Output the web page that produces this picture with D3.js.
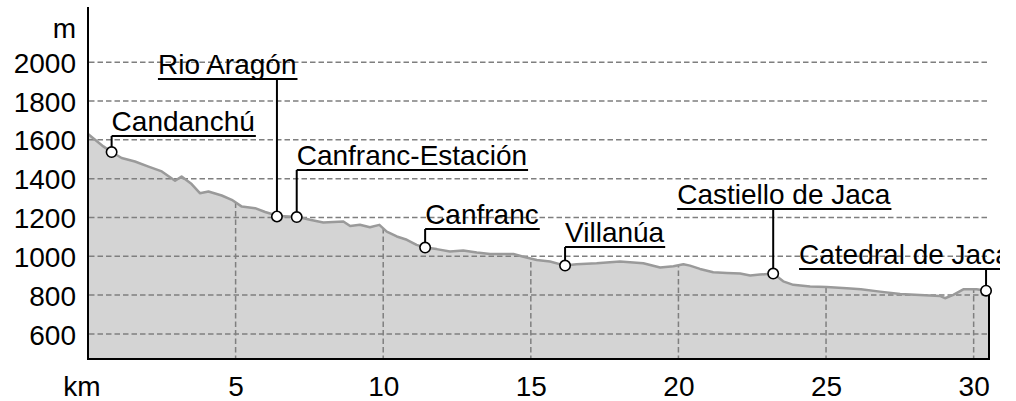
<!DOCTYPE html>
<html>
<head>
<meta charset="utf-8">
<script src="https://cdn.jsdelivr.net/npm/d3@7"></script>
<style>
body { margin: 0; background: #fff; }
svg { display: block; font-family: "Liberation Sans", Arial, sans-serif; }
</style>
</head>
<body>
<svg width="1000" height="401"></svg>
<script>
// elevation profile, km / metres
var km = [0, 0.24, 0.52, 0.80, 1.14, 1.59, 2.05, 2.50, 2.95, 3.17, 3.51, 3.79, 4.08, 4.53, 4.87,
          5.21, 5.66, 6.00, 6.39, 6.50, 7.12, 7.52, 7.97, 8.65, 8.88, 9.21, 9.55, 9.87, 10.12,
          10.46, 10.80, 11.13, 11.42, 11.81, 12.26, 12.71, 13.17, 13.62, 14.41, 14.75, 15.20,
          15.65, 16.16, 16.55, 17.23, 18.02, 18.81, 19.38, 19.83, 20.17, 20.39, 20.73, 21.18,
          21.64, 22.09, 22.43, 22.76, 23.21, 23.55, 23.89, 24.46, 25.02, 25.70, 26.18, 26.83,
          27.51, 28.18, 28.86, 29.03, 29.31, 29.65, 30.10, 30.42, 30.52];
var elev = [1630, 1600, 1566, 1537, 1506, 1488, 1462, 1437, 1389, 1411, 1372, 1325, 1334, 1313, 1291,
            1256, 1248, 1228, 1210, 1208, 1202, 1188, 1174, 1179, 1156, 1162, 1150, 1162, 1127,
            1102, 1085, 1059, 1045, 1037, 1025, 1030, 1020, 1012, 1012, 998, 981,
            973, 952, 959, 964, 973, 964, 942, 949, 959, 952, 935, 918,
            914, 911, 901, 906, 911, 871, 853, 845, 842, 836, 830, 818,
            806, 801, 796, 784, 801, 830, 830, 823, 823];

var placeNames = ["Candanchú", "Rio Aragón", "Canfranc-Estación", "Canfranc", "Villanúa",
                  "Castiello de Jaca", "Catedral de Jaca"];
var placeKm = [0.80, 6.40, 7.07, 11.42, 16.16, 23.21, 30.42];
var placeElev = [1537, 1205, 1202, 1045, 952, 911, 823];

var yTicks = [600, 800, 1000, 1200, 1400, 1600, 1800, 2000];
var xTicks = [5, 10, 15, 20, 25, 30];

// label placement (pixels): text start relative to the marker, underline height
var labelDx = [0, -119, 0, 0, 0, -96, -187];
var labelLineY = [136, 79, 170, 229, 247, 209, 269];

var svg = d3.select("svg"),
    fontSize = 28,
    x = d3.scaleLinear().domain([0, 30.52]).range([88, 989]),
    y = d3.scaleLinear().domain([471, 2284]).range([359, 7]),
    bottom = y(471);

var pts = km.map(function(d, i) { return [d, elev[i]]; });

var area = d3.area()
    .x(function(d) { return x(d[0]); })
    .y0(bottom)
    .y1(function(d) { return y(d[1]); });

var line = d3.line()
    .x(function(d) { return x(d[0]); })
    .y(function(d) { return y(d[1]); });

svg.append("clipPath").attr("id", "under")
    .append("path").attr("d", area(pts));

svg.append("path")
    .attr("d", area(pts))
    .attr("fill", "#d4d4d4");

// horizontal grid
svg.append("g").selectAll("line")
    .data(yTicks)
    .enter().append("line")
    .attr("x1", x(0) + 1).attr("x2", x(30.52))
    .attr("y1", function(d) { return y(d); })
    .attr("y2", function(d) { return y(d); })
    .attr("stroke", "#7f7f7f")
    .attr("stroke-width", 1.5)
    .attr("stroke-dasharray", "5.5,3");

// vertical grid, only under the profile
svg.append("g").attr("clip-path", "url(#under)").selectAll("line")
    .data(xTicks)
    .enter().append("line")
    .attr("x1", function(d) { return x(d); })
    .attr("x2", function(d) { return x(d); })
    .attr("y1", y(2284)).attr("y2", bottom)
    .attr("stroke", "#7f7f7f")
    .attr("stroke-width", 1.5)
    .attr("stroke-dasharray", "5.5,3");

svg.append("path")
    .attr("d", line(pts))
    .attr("fill", "none")
    .attr("stroke", "#9a9a9a")
    .attr("stroke-width", 2.5)
    .attr("stroke-linejoin", "round");

// axes frame
svg.append("line")
    .attr("x1", x(0)).attr("x2", x(0))
    .attr("y1", y(2284)).attr("y2", bottom + 1)
    .attr("stroke", "#000").attr("stroke-width", 2);
svg.append("line")
    .attr("x1", x(0)).attr("x2", x(30.52) + 1)
    .attr("y1", bottom).attr("y2", bottom)
    .attr("stroke", "#000").attr("stroke-width", 2);
svg.append("line")
    .attr("x1", x(30.52)).attr("x2", x(30.52))
    .attr("y1", y(elev[elev.length - 1])).attr("y2", bottom)
    .attr("stroke", "#000").attr("stroke-width", 2);

// tick labels
var yAxis = svg.append("g")
    .attr("transform", "translate(" + x(0) + ",0)")
    .call(d3.axisLeft(y).tickValues(yTicks).tickSize(0).tickPadding(12).tickFormat(d3.format("d")));
yAxis.select(".domain").remove();
yAxis.selectAll("text")
    .attr("font-size", fontSize)
    .attr("font-family", null)
    .attr("fill", "#000")
    .attr("dy", "0.36em");

var xAxis = svg.append("g")
    .attr("transform", "translate(0," + bottom + ")")
    .call(d3.axisBottom(x).tickValues(xTicks).tickSize(0).tickPadding(0));
xAxis.select(".domain").remove();
xAxis.selectAll("text")
    .attr("font-size", fontSize)
    .attr("font-family", null)
    .attr("fill", "#000")
    .attr("y", 37)
    .attr("dy", null);

svg.append("text")
    .attr("x", x(0) - 12).attr("y", 38)
    .attr("text-anchor", "end")
    .attr("font-size", fontSize)
    .text("m");

svg.append("text")
    .attr("x", 82).attr("y", bottom + 37)
    .attr("text-anchor", "middle")
    .attr("font-size", fontSize)
    .text("km");

// place labels
var places = svg.append("g").selectAll("g")
    .data(placeNames)
    .enter().append("g");

places.each(function(name, i) {
    var g = d3.select(this),
        cx = x(placeKm[i]),
        cy = y(placeElev[i]),
        ly = labelLineY[i],
        tx = cx + labelDx[i];

    var t = g.append("text")
        .attr("x", tx).attr("y", ly - 5)
        .attr("font-size", fontSize)
        .attr("fill", "#000")
        .text(name);
    var w = t.node().getComputedTextLength();

    g.append("line")
        .attr("x1", tx).attr("x2", tx + w + 1)
        .attr("y1", ly).attr("y2", ly)
        .attr("stroke", "#000").attr("stroke-width", 2);

    g.append("line")
        .attr("x1", cx).attr("x2", cx)
        .attr("y1", ly).attr("y2", cy)
        .attr("stroke", "#000").attr("stroke-width", 2);

    g.append("circle")
        .attr("cx", cx).attr("cy", cy)
        .attr("r", 5.2)
        .attr("fill", "#fff")
        .attr("stroke", "#000")
        .attr("stroke-width", 1.6);
});
</script>
</body>
</html>
